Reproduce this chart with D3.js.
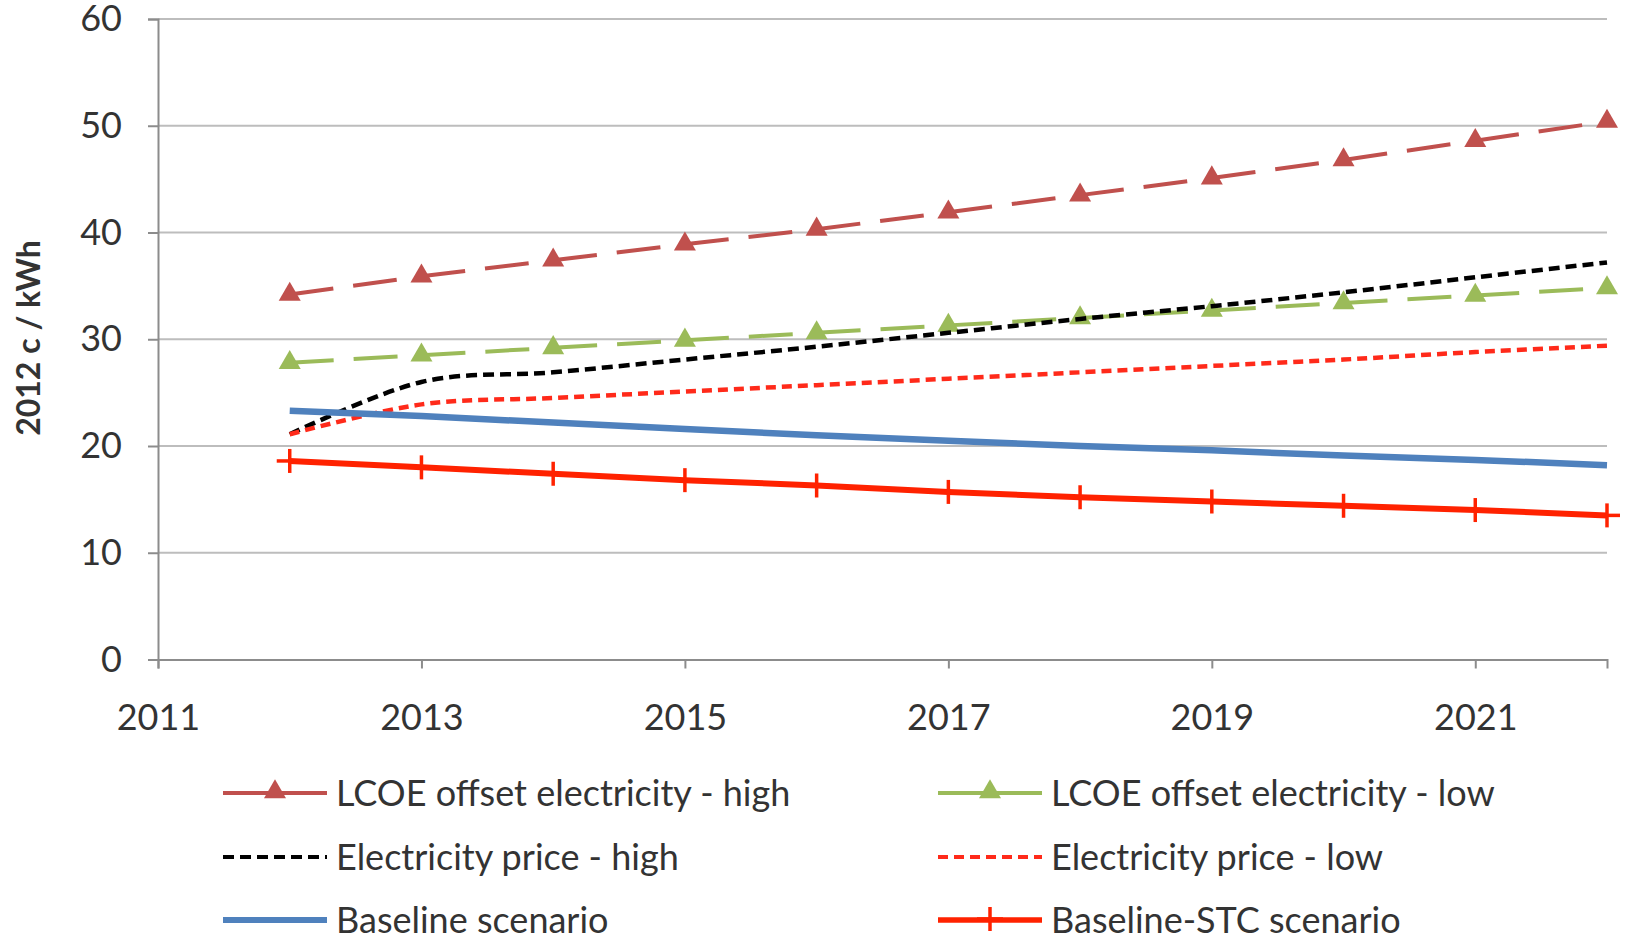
<!DOCTYPE html>
<html>
<head>
<meta charset="utf-8">
<script src="https://cdn.jsdelivr.net/npm/d3@7"></script>
<style>
  html, body { margin: 0; padding: 0; background: #fff; }
  svg { display: block; }
  text { font-family: Lato, "Open Sans", sans-serif; fill: #333; }
</style>
</head>
<body>
<svg id="chart" width="1629" height="938"></svg>
<script>
// Years on the horizontal axis
const years = [2012, 2013, 2014, 2015, 2016, 2017, 2018, 2019, 2020, 2021, 2022];

// Series values, 2012 c / kWh
const lcoeHigh  = [34.2, 35.9, 37.4, 38.9, 40.3, 41.9, 43.5, 45.1, 46.8, 48.6, 50.4];
const lcoeLow   = [27.8, 28.5, 29.2, 29.9, 30.6, 31.3, 32.0, 32.7, 33.4, 34.1, 34.8];
const priceHigh = [21.1, 26.0, 26.9, 28.1, 29.3, 30.6, 31.9, 33.1, 34.4, 35.8, 37.2];
const priceLow  = [21.1, 23.9, 24.5, 25.1, 25.7, 26.3, 26.9, 27.5, 28.1, 28.8, 29.4];
const baseline  = [23.3, 22.8, 22.2, 21.6, 21.0, 20.5, 20.0, 19.6, 19.1, 18.7, 18.2];
const baselineStc = [18.6, 18.0, 17.4, 16.8, 16.3, 15.7, 15.2, 14.8, 14.4, 14.0, 13.5];

// Axis ticks
const xTicks = [2011, 2013, 2015, 2017, 2019, 2021];
const yTicks = [0, 10, 20, 30, 40, 50, 60];

const seriesNames = [
  "LCOE offset electricity - high",
  "LCOE offset electricity - low",
  "Electricity price - high",
  "Electricity price - low",
  "Baseline scenario",
  "Baseline-STC scenario"
];

// Visual style per series
const styles = [
  { values: lcoeHigh,  color: "#c0504d", width: 4,   dash: "44,20", restart: true,  marker: "triangle", smooth: false },
  { values: lcoeLow,   color: "#9bbb59", width: 4,   dash: "44,20", restart: true,  marker: "triangle", smooth: false },
  { values: priceHigh, color: "#000000", width: 4.5, dash: "11,6",  restart: false, marker: null,       smooth: true },
  { values: priceLow,  color: "#ff2a1a", width: 4.5, dash: "10,6",  restart: false, marker: null,       smooth: true },
  { values: baseline,  color: "#4f81bd", width: 6.5, dash: null,    restart: false, marker: null,       smooth: false },
  { values: baselineStc, color: "#ff2200", width: 6, dash: null,    restart: false, marker: "plus",     smooth: false }
];

const svg = d3.select("#chart");

const x = d3.scaleLinear().domain([2011, 2022]).range([158, 1607]);
const y = d3.scaleLinear().domain([0, 60]).range([659.5, 19]);

const labelFont = "36px";

// Horizontal gridlines
svg.append("g")
  .selectAll("line")
  .data(yTicks.filter(d => d > 0))
  .join("line")
  .attr("x1", x(2011)).attr("x2", x(2022))
  .attr("y1", d => y(d)).attr("y2", d => y(d))
  .attr("stroke", "#bdbdbd").attr("stroke-width", 2);

// Y axis
const yAxis = svg.append("g")
  .attr("transform", `translate(${x(2011)},0)`)
  .call(d3.axisLeft(y).tickValues(yTicks).tickSize(10).tickPadding(26));
yAxis.select(".domain").attr("stroke", "#8c8c8c").attr("stroke-width", 2);
yAxis.selectAll(".tick line").attr("stroke", "#8c8c8c").attr("stroke-width", 2);
yAxis.selectAll(".tick text")
  .style("font-size", labelFont).style("font-family", "Lato, sans-serif").attr("fill", "#333");

// X axis
const xAxis = svg.append("g")
  .attr("transform", `translate(0,${y(0)})`)
  .call(d3.axisBottom(x).tickValues(xTicks).tickFormat(d3.format("d")).tickSize(9).tickPadding(36));
xAxis.select(".domain").attr("stroke", "#8c8c8c").attr("stroke-width", 2);
xAxis.selectAll(".tick line").attr("stroke", "#8c8c8c").attr("stroke-width", 2);
xAxis.selectAll(".tick text")
  .style("font-size", labelFont).style("font-family", "Lato, sans-serif").attr("fill", "#333");

// Y axis title
svg.append("text")
  .attr("transform", `translate(40,338) rotate(-90)`)
  .attr("text-anchor", "middle")
  .style("font-size", "32px").style("font-weight", "bold")
  .attr("fill", "#222")
  .text("2012 c / kWh");

const lineStraight = d3.line().x(d => x(d[0])).y(d => y(d[1]));
const lineSmooth = d3.line().x(d => x(d[0])).y(d => y(d[1])).curve(d3.curveCardinal.tension(0));

function drawMarker(g, type, color, cx, cy) {
  if (type === "triangle") {
    g.append("path")
      .attr("d", d3.symbol().type(d3.symbolTriangle).size(210)())
      .attr("transform", `translate(${cx},${cy})`)
      .attr("fill", color);
  } else if (type === "plus") {
    g.append("line")
      .attr("x1", cx - 13).attr("x2", cx + 13)
      .attr("y1", cy).attr("y2", cy)
      .attr("stroke", color).attr("stroke-width", 3.5);
    g.append("line")
      .attr("x1", cx).attr("x2", cx)
      .attr("y1", cy - 12).attr("y2", cy + 12)
      .attr("stroke", color).attr("stroke-width", 3.5);
  }
}

const plot = svg.append("g");
styles.forEach(st => {
  const pts = years.map((yr, i) => [yr, st.values[i]]);
  const g = plot.append("g");
  if (st.restart) {
    // dash pattern starts again at every data point
    for (let i = 0; i < pts.length - 1; i++) {
      g.append("path")
        .attr("d", lineStraight([pts[i], pts[i + 1]]))
        .attr("fill", "none")
        .attr("stroke", st.color)
        .attr("stroke-width", st.width)
        .attr("stroke-dasharray", st.dash);
    }
  } else {
    g.append("path")
      .attr("d", (st.smooth ? lineSmooth : lineStraight)(pts))
      .attr("fill", "none")
      .attr("stroke", st.color)
      .attr("stroke-width", st.width)
      .attr("stroke-dasharray", st.dash);
  }
  if (st.marker) {
    pts.forEach(p => drawMarker(g, st.marker, st.color, x(p[0]), y(p[1])));
  }
});

// Legend, two columns by three rows
const legendCols = [223, 938];
const legendRows = [793, 857, 920];
const legend = svg.append("g");
styles.forEach((st, i) => {
  const cx = legendCols[i % 2];
  const cy = legendRows[Math.floor(i / 2)];
  const g = legend.append("g");
  g.append("line")
    .attr("x1", cx).attr("x2", cx + 104)
    .attr("y1", cy).attr("y2", cy)
    .attr("stroke", st.color)
    .attr("stroke-width", st.marker === "triangle" ? 4 : st.width * 0.9)
    .attr("stroke-dasharray", st.restart ? null : st.dash);
  if (st.marker) drawMarker(g, st.marker, st.color, cx + 52, cy - 1);
  g.append("text")
    .attr("x", cx + 113).attr("y", cy)
    .attr("dy", "0.35em")
    .style("font-size", labelFont)
    .attr("fill", "#333")
    .text(seriesNames[i]);
});
</script>
</body>
</html>
